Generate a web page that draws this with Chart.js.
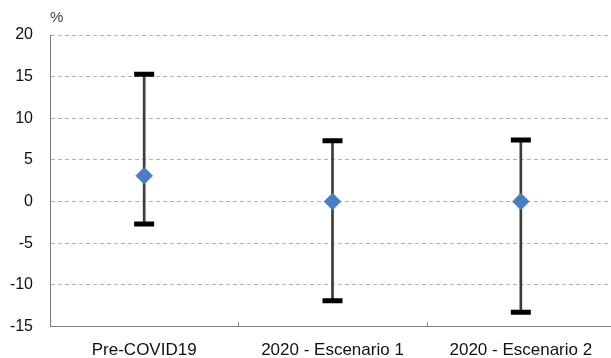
<!DOCTYPE html>
<html>
<head>
<meta charset="utf-8">
<script src="https://cdn.jsdelivr.net/npm/chart.js@4/dist/chart.umd.min.js"></script>
<style>
  html, body { margin: 0; padding: 0; background: #fff; overflow: hidden; }
  #wrap { width: 615px; height: 358px; }
</style>
</head>
<body>
<div id="wrap"><canvas id="c" width="615" height="358"></canvas></div>
<script>
// Growth ranges per scenario: central estimate with upper and lower bounds (%)
const categories = ['Pre-COVID19', '2020 - Escenario 1', '2020 - Escenario 2'];
const centralValues = [3.1, 0, 0];
const upperValues = [15.3, 7.3, 7.4];
const lowerValues = [-2.7, -11.9, -13.3];
const yMin = -15, yMax = 20, yStep = 5;
const unitLabel = '%';

const FONT = '"Liberation Sans", Arial, Helvetica, sans-serif';

// Extra drawing: unit label above the y axis, and short inward ticks between categories
const extras = {
  id: 'extras',
  afterDraw(chart) {
    const { ctx, chartArea, scales } = chart;
    ctx.save();
    ctx.fillStyle = '#444';
    ctx.font = '15px ' + FONT;
    ctx.textAlign = 'left';
    ctx.textBaseline = 'middle';
    ctx.fillText(unitLabel, chartArea.left, chartArea.top - 17);

    const x = scales.x;
    ctx.strokeStyle = '#7d7d7d';
    ctx.lineWidth = 1;
    for (let i = 0; i < categories.length - 1; i++) {
      const px = Math.round((x.getPixelForValue(i) + x.getPixelForValue(i + 1)) / 2) + 0.5;
      ctx.beginPath();
      ctx.moveTo(px, chartArea.bottom);
      ctx.lineTo(px, chartArea.bottom - 4);
      ctx.stroke();
    }
    ctx.restore();
  }
};

new Chart(document.getElementById('c'), {
  data: {
    labels: categories,
    datasets: [
      {
        type: 'line',
        label: 'Central',
        data: centralValues,
        showLine: false,
        pointStyle: 'rectRot',
        pointRadius: 8.5,
        pointBorderWidth: 0.5,
        pointBackgroundColor: '#4a7ec4',
        pointBorderColor: '#4a7ec4',
        order: 0
      },
      {
        type: 'line',
        label: 'Máximo',
        data: upperValues,
        showLine: false,
        pointStyle: 'line',
        pointRadius: 10,
        pointBorderWidth: 5,
        pointBorderColor: '#000',
        order: 1
      },
      {
        type: 'line',
        label: 'Mínimo',
        data: lowerValues,
        showLine: false,
        pointStyle: 'line',
        pointRadius: 10,
        pointBorderWidth: 5,
        pointBorderColor: '#000',
        order: 1
      },
      {
        type: 'bar',
        label: 'Rango',
        data: categories.map((c, i) => [lowerValues[i], upperValues[i]]),
        backgroundColor: '#3c3c3c',
        borderWidth: 0,
        barThickness: 2,
        order: 2
      }
    ]
  },
  options: {
    responsive: false,
    animation: false,
    events: [],
    layout: { autoPadding: false, padding: { top: 35, right: 0, bottom: 0, left: 0 } },
    plugins: {
      legend: { display: false },
      tooltip: { enabled: false }
    },
    scales: {
      x: {
        type: 'category',
        offset: true,
        grid: { display: false },
        border: { display: true, color: '#7d7d7d', width: 1 },
        ticks: {
          color: '#111',
          padding: 6,
          maxRotation: 0,
          font: { family: FONT, size: 17 }
        },
        afterFit(scale) {
          scale.height = 31.5;
          scale.paddingLeft = 0;
          scale.paddingRight = 0;
        }
      },
      y: {
        min: yMin,
        max: yMax,
        grid: { color: '#b2b2b2', lineWidth: 1, drawTicks: false },
        border: { display: true, color: '#7d7d7d', width: 1, dash: [4, 3] },
        ticks: {
          stepSize: yStep,
          color: '#111',
          padding: 17,
          font: { family: FONT, size: 16 }
        },
        afterFit(scale) { scale.width = 50; }
      }
    }
  },
  plugins: [extras]
});
</script>
</body>
</html>
